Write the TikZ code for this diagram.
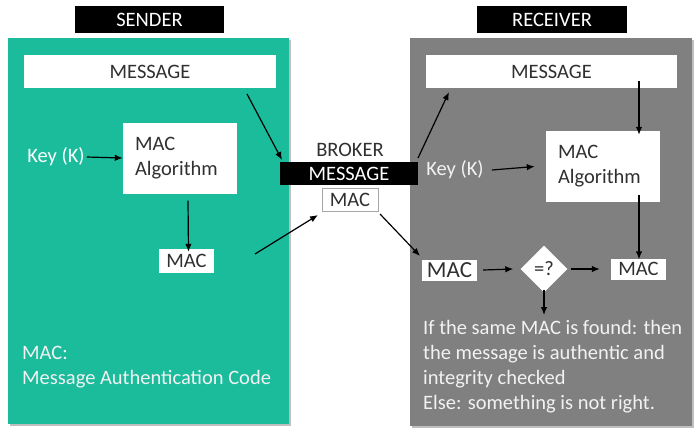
\documentclass[tikz,border=0pt]{standalone}
\usepackage{fontspec}
\setmainfont{Carlito}
\usetikzlibrary{arrows.meta,shapes.geometric}
\definecolor{teal1}{HTML}{1ABC9C}
\definecolor{gray1}{HTML}{808080}
\definecolor{txt}{HTML}{303030}
\definecolor{offw}{HTML}{F2F2F2}
\tikzset{
  f20/.style={font=\fontsize{20.5}{25}\selectfont},
  wbox/.style={fill=white, inner sep=0pt, text=txt, f20},
  bbox/.style={fill=black, inner sep=0pt, text=white, f20},
  algbox/.style={wbox, minimum width=114pt, minimum height=71pt, text width=90pt, align=left},
  lbl/.style={inner sep=0pt, f20},
  arr/.style={-{Latex[length=8pt,width=6.5pt]}, line width=1.2pt, black},
  panelshadow/.style={fill=black!25},
}
\begin{document}
\begin{tikzpicture}[x=1pt,y=-1pt]
\useasboundingbox (0,0) rectangle (700,432);
\fill[white] (0,0) rectangle (700,432);
% panels
\fill[panelshadow] (9.5,39.5) rectangle (290.5,425.5);
\fill[teal1] (8,38) rectangle (289,424);
\fill[panelshadow] (411.5,39.5) rectangle (693.5,427.5);
\fill[gray1] (410,38) rectangle (692,426);
% titles
\node[bbox, minimum width=149pt, minimum height=27pt] (sender) at (149.5,19.5) {SENDER};
\node[bbox, minimum width=150pt, minimum height=27pt] (receiver) at (552,19.5) {RECEIVER};
% sender
\node[wbox, minimum width=252pt, minimum height=33pt] (smsg) at (150,71.5) {MESSAGE};
\node[algbox] (salg) at (180,158) {MAC\\Algorithm};
\node[lbl, text=white] (skey) at (56,157) {Key (K)};
\node[wbox, minimum width=55pt, minimum height=24pt] (smac) at (186.5,261) {MAC};
\node[lbl, text=offw, anchor=north west, align=left] (sdef) at (22,346) {MAC:\\Message Authentication Code};
% broker
\node[lbl, text=txt] (broker) at (350,150) {BROKER};
\node[bbox, minimum width=138pt, minimum height=23pt] (bmsg) at (349,173.5) {MESSAGE};
\node[wbox, draw=black!35, line width=0.8pt, minimum width=56pt, minimum height=23pt] (bmac) at (350,199.5) {MAC};
% receiver
\node[wbox, minimum width=251pt, minimum height=33pt] (rmsg) at (551.5,71.5) {MESSAGE};
\node[algbox] (ralg) at (603,166.5) {MAC\\Algorithm};
\node[lbl, text=offw] (rkey) at (455,170) {Key (K)};
\node[wbox, minimum width=55pt, minimum height=21pt, font=\fontsize{23}{25}\selectfont] (rmacl) at (449.5,270) {MAC};
\node[diamond, fill=white, inner sep=0pt, minimum width=47pt, minimum height=47pt, text=txt, f20] (cmp) at (544,269) {=?};
\node[wbox, minimum width=55pt, minimum height=21pt] (rmacr) at (638.5,269) {MAC};
\node[lbl, text=offw, anchor=north west, align=left] (rres) at (423,320.5)
  {If the same MAC is found: then\\the message is authentic and\\integrity checked\\Else: something is not right.};
% free ends
\coordinate (a1s) at (247,94);
\coordinate (a1e) at (282,160);
\coordinate (a2s) at (255,254);
\coordinate (a2e) at (318,215);
\coordinate (a3s) at (418,158);
\coordinate (a3e) at (449,92);
\coordinate (a4s) at (380,214);
\coordinate (a4e) at (420,256);
\coordinate (dtip) at (544,315);
% connectors
\draw[arr] (skey.east) ++(2,0) -- (salg.west);
\draw[arr] (salg.south) ++(8,7) -- ([xshift=2pt,yshift=-3pt]smac.north);
\draw[arr] (a1s) -- (a1e);
\draw[arr] (a2s) -- (a2e);
\draw[arr] (a3s) -- (a3e);
\draw[arr] (a4s) -- (a4e);
\draw[arr] ([xshift=87.5pt,yshift=7pt]rmsg.south) -- ([xshift=36pt,yshift=-4pt]ralg.north);
\draw[arr] ([xshift=8pt]rkey.east) -- ([xshift=-11pt]ralg.west);
\draw[arr] ([xshift=36pt,yshift=7pt]ralg.south) -- ([xshift=0.5pt,yshift=-1pt]rmacr.north);
\draw[arr] ([xshift=6pt]rmacl.east) -- ([xshift=-7pt]cmp.west);
\draw[arr] ([xshift=3pt]cmp.east) -- ([xshift=-11pt]rmacr.west);
\draw[arr] ([yshift=3pt]cmp.south) -- (dtip);
\end{tikzpicture}
\end{document}
